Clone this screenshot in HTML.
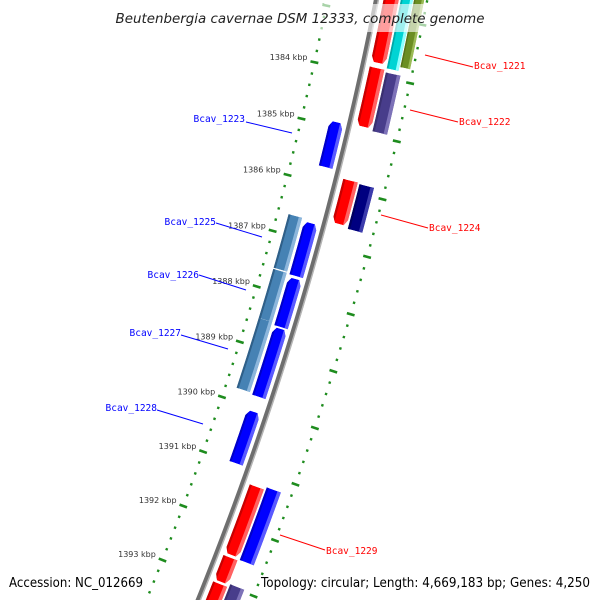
<!DOCTYPE html>
<html><head><meta charset="utf-8"><style>
html,body{margin:0;padding:0;background:#fff;width:600px;height:600px;overflow:hidden;}
svg{display:block;overflow:hidden;}
</style></head><body>
<svg id="map" width="600" height="600" viewBox="0 0 600 600" xmlns="http://www.w3.org/2000/svg">
<rect x="0" y="0" width="600" height="600" fill="#fff"/>
<defs id="defs"></defs>
<g id="ticks"></g>
<g id="backbone"></g>
<g id="genes"></g>
<g id="labels"></g>
<rect x="112" y="4" width="378" height="28" fill="#fff" fill-opacity="0.62"/>
<text x="300" y="23" text-anchor="middle" font-family="DejaVu Sans, Liberation Sans, sans-serif" font-style="italic" font-size="13" fill="#222" textLength="369" lengthAdjust="spacingAndGlyphs">Beutenbergia cavernae DSM 12333, complete genome</text>
<text x="9" y="587" font-family="DejaVu Sans, Liberation Sans, sans-serif" font-size="13" fill="#000" textLength="134" lengthAdjust="spacingAndGlyphs">Accession: NC_012669</text>
<text x="261" y="587" font-family="DejaVu Sans, Liberation Sans, sans-serif" font-size="13" fill="#000" textLength="329" lengthAdjust="spacingAndGlyphs">Topology: circular; Length: 4,669,183 bp; Genes: 4,250</text>
</svg>
<script>
// ---- data ----
const geneStart = [1382.4, 1383.87, 1385.83, 1391.26, 1392.54, 1393.02,
                   1382.4, 1382.4, 1383.91, 1385.85, 1391.21, 1392.96,
                   1384.92, 1386.70, 1387.69, 1388.58, 1390.07,
                   1386.65, 1387.63, 1388.51];
const geneEnd   = [1383.78, 1384.89, 1386.59, 1392.49, 1392.98, 1394.0,
                   1383.84, 1383.77, 1384.93, 1386.63, 1392.52, 1394.0,
                   1385.71, 1387.64, 1388.55, 1389.80, 1391.00,
                   1387.61, 1388.51, 1389.77];
const geneTrack = ['o1','o1','o1','o1','o1','o1',
                   'o2a','o3','o2','o2','o2','o2',
                   'i1','i1','i1','i1','i1',
                   'i2','i2','i2'];
const geneColor = ['red','red','red','red','red','red',
                   'cyan','olive','purple','navy','blue','purple',
                   'blue','blue','blue','blue','blue',
                   'steel','steel','steel'];
const geneArrow = ['down','down','down','down','down','down',
                   'none','none','none','none','none','none',
                   'up','up','up','up','up',
                   'none','none','none'];
const labelTicks = ['1384 kbp','1385 kbp','1386 kbp','1387 kbp','1388 kbp','1389 kbp','1390 kbp','1391 kbp','1392 kbp','1393 kbp'];
const labelTickVals = [1384,1385,1386,1387,1388,1389,1390,1391,1392,1393];
const geneNames = ['Bcav_1221','Bcav_1222','Bcav_1224','Bcav_1229','Bcav_1223','Bcav_1225','Bcav_1226','Bcav_1227','Bcav_1228'];
const geneNameColor = ['red','red','red','red','blue','blue','blue','blue','blue'];

// ---- layout ----
const CX=-2862, CY=-635;
const TH0=12.38, DEG_PER_KBP=1.02;
const tracks={o1:[3307,3322],o2:[3324,3339],o2a:[3324,3336],o3:[3337,3347],i1:[3280,3294],i2:[3263,3277]};
const palette={
 red:['#ff0000','#ff6262','#c80000'], cyan:['#00d4d4','#8effff','#00a8a8'],
 olive:['#6b8e23','#9bbb55','#55731a'], purple:['#483d8b','#7d72b8','#3a3070'],
 navy:['#000080','#3c3cac','#000060'], blue:['#0000ff','#5a5aff','#0000c8'],
 steel:['#4682b4','#8cb6dc','#2f5f88']};
const labelLines=[[425,55,473,67],[410,110,458,122],[381,215,428,228],[280,535,325,550],
 [246,122,292,133],[216,223,262,237],[199,275,246,290],[181,335,228,349],[157,410,203,424]];
const labelPos=[[474,69,'start'],[459,125,'start'],[429,231,'start'],[326,554,'start'],
 [245,122,'end'],[216,225,'end'],[199,278,'end'],[181,336,'end'],[157,411,'end']];

const NS='http://www.w3.org/2000/svg';
function th(k){return (TH0+(k-1384)*DEG_PER_KBP)*Math.PI/180;}
function P(r,t){return [CX+r*Math.cos(t), CY+r*Math.sin(t)];}
function mk(tag,attrs,parent){const e=document.createElementNS(NS,tag);for(const k in attrs)e.setAttribute(k,attrs[k]);parent.appendChild(e);return e;}
function arcPts(r,t1,t2,n){const a=[];for(let i=0;i<=n;i++){a.push(P(r,t1+(t2-t1)*i/n));}return a;}
function ptsStr(a){return a.map(p=>p[0].toFixed(2)+','+p[1].toFixed(2)).join(' ');}

// backbone
const bb=document.getElementById('backbone');
const tA=th(1382.5), tB=th(1394);
let e=mk('polyline',{points:ptsStr(arcPts(3300,tA,tB,80)),fill:'none',stroke:'#6e6e6e','stroke-width':5},bb);


e=mk('polyline',{points:ptsStr(arcPts(3302,tA,tB,80)),fill:'none',stroke:'#b4b4b4','stroke-width':1.5},bb);



// ticks
const tg=document.getElementById('ticks');
[3252,3350].forEach(function(R){
  for(let k=1382.4;k<=1394.001;k+=0.2){
    const kk=Math.round(k*10)/10;
    const major=Math.abs(kk-Math.round(kk))<0.01;
    const t=th(kk);
    const half=major?4:1.2;
    const a=P(R-half,t), b=P(R+half,t);
    const ln=mk('line',{x1:a[0],y1:a[1],x2:b[0],y2:b[1],stroke:'#1e8c1e','stroke-width':major?2.6:2.4},tg);
    
    
  }
});
labelTickVals.forEach(function(k,i){
  const p=P(3247,th(k));
  const tx=mk('text',{x:p[0]-2,y:p[1]-1,'text-anchor':'end','font-family':'DejaVu Sans, Liberation Sans, sans-serif','font-size':8,fill:'#333'},tg);
  tx.textContent=labelTicks[i];
  
  
});

// genes
const gg=document.getElementById('genes');
const defs=document.getElementById('defs');
const HEAD=0.1*Math.PI/180;
geneStart.forEach(function(s,i){
  const r=tracks[geneTrack[i]], r1=r[0], r2=r[1];
  const t1=th(s), t2=th(geneEnd[i]);
  let pts;
  if(geneArrow[i]==='down'){
    pts=arcPts(r1,t1,t2-HEAD,20).concat([P(r1+3,t2),P(r2-3,t2)]).concat(arcPts(r2,t2-HEAD,t1,20));
  }else if(geneArrow[i]==='up'){
    pts=[P(r1+3,t1),P(r2-3,t1)].concat(arcPts(r2,t1+HEAD,t2,20)).concat(arcPts(r1,t2,t1+HEAD,20));
  }else{
    pts=arcPts(r1,t1,t2,20).concat(arcPts(r2,t2,t1,20));
  }
  const c=palette[geneColor[i]];
  const cp=mk('clipPath',{id:'gc'+i},defs);
  mk('polygon',{points:ptsStr(pts)},cp);
  const g=mk('g',{'clip-path':'url(#gc'+i+')'},gg);
  
  
  mk('polygon',{points:ptsStr(pts),fill:c[0]},g);
  const w=r2-r1;
  const hl=arcPts(r2-w*0.24,t1-0.01,t2+0.01,20).concat(arcPts(r2+1,t2+0.01,t1-0.01,20));
  mk('polygon',{points:ptsStr(hl),fill:c[1]},g);
  const dk=arcPts(r1-1,t1-0.01,t2+0.01,20).concat(arcPts(r1+w*0.15,t2+0.01,t1-0.01,20));
  mk('polygon',{points:ptsStr(dk),fill:c[2]},g);
});

// labels
const lg=document.getElementById('labels');
geneNames.forEach(function(n,i){
  const col=geneNameColor[i]==='red'?'#ff0000':'#0000ff';
  const L=labelLines[i];
  const ln=mk('line',{x1:L[0],y1:L[1],x2:L[2],y2:L[3],stroke:col,'stroke-width':1},lg);
  
  
  const p=labelPos[i];
  const t=mk('text',{x:p[0],y:p[1],'text-anchor':p[2],'font-family':'DejaVu Sans Mono, Liberation Mono, monospace','font-size':9.5,fill:col},lg);
  t.textContent=n;
  
  
});
</script>
</body></html>
